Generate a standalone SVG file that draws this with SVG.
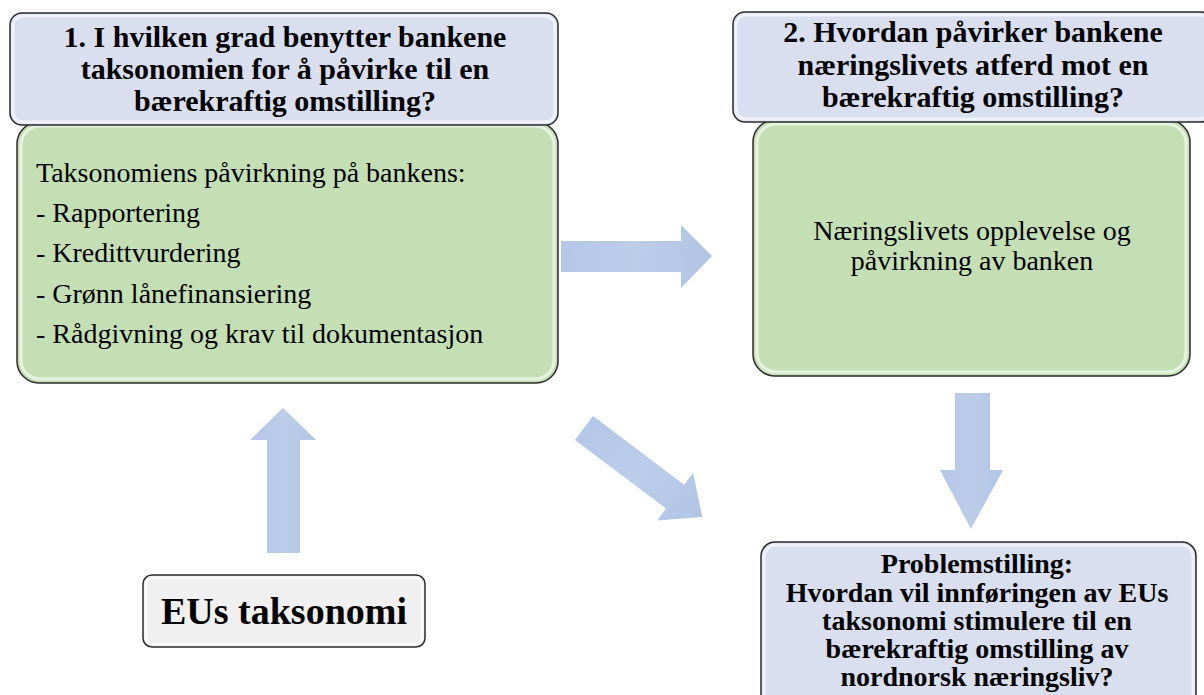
<svg xmlns="http://www.w3.org/2000/svg" width="1204" height="695" viewBox="0 0 1204 695">
<defs>
<linearGradient id="ag" x1="0" y1="0" x2="1" y2="0">
<stop offset="0" stop-color="#b4c7e7"/><stop offset="0.5" stop-color="#bccde9"/><stop offset="1" stop-color="#b0c4e5"/>
</linearGradient>
<style>
.hdr{fill:#d9dfef;stroke:#2b2b2b;stroke-width:1.5}
.grn{fill:#c5dfb4;stroke:#2b2b2b;stroke-width:1.5}
.gry{fill:#f0f0f0;stroke:#2b2b2b;stroke-width:1.5}
.glow{fill:none;stroke:#ffffff;stroke-opacity:0.6;stroke-width:3}
.arr{fill:url(#ag)}
.tb{font-weight:bold;fill:#000;text-anchor:middle}
.tr{fill:#000}
</style>
</defs>
<g id="connectors">
<polygon class="arr" points="561,241 681,241 681,225 712,256 681,288 681,272 561,272"/>
<polygon class="arr" transform="rotate(37 584 428)" points="584,413 698,413 698,398 732,428 698,458 698,443 584,443"/>
<polygon class="arr" points="955,393 990,393 990,470 1003,470 971,529 940,470 955,470"/>
<polygon class="arr" points="267,553 300,553 300,440 316,440 283,408 250,440 267,440"/>
</g>
<g id="box1-body">
<rect class="grn" x="17" y="122" width="541" height="261" rx="22"/>
<rect class="glow" x="21" y="126" width="533" height="253" rx="19"/>
<text class="tr" font-family="'Liberation Serif', 'DejaVu Serif', serif" font-size="28"><tspan x="36" y="182">Taksonomiens påvirkning på bankens:</tspan><tspan x="36" y="222">- Rapportering</tspan><tspan x="36" y="262">- Kredittvurdering</tspan><tspan x="36" y="303">- Grønn lånefinansiering</tspan><tspan x="36" y="343">- Rådgivning og krav til dokumentasjon</tspan></text>
</g>
<g id="box1-header">
<rect class="hdr" x="10" y="13" width="548" height="112" rx="12"/>
<rect class="glow" x="13" y="16" width="542" height="106" rx="10"/>
<text class="tb" font-family="'Liberation Serif', 'DejaVu Serif', serif" font-size="30"><tspan x="285" y="47">1. I hvilken grad benytter bankene</tspan><tspan x="285" y="79">taksonomien for å påvirke til en</tspan><tspan x="285" y="111">bærekraftig omstilling?</tspan></text>
</g>
<g id="box2-body">
<rect class="grn" x="753" y="120" width="437" height="256" rx="22"/>
<rect class="glow" x="757" y="124" width="429" height="248" rx="19"/>
<text class="tr" font-family="'Liberation Serif', 'DejaVu Serif', serif" font-size="28" text-anchor="middle"><tspan x="972" y="240">Næringslivets opplevelse og</tspan><tspan x="972" y="270">påvirkning av banken</tspan></text>
</g>
<g id="box2-header">
<rect class="hdr" x="733" y="12" width="480" height="110" rx="12"/>
<rect class="glow" x="736" y="15" width="474" height="104" rx="10"/>
<text class="tb" font-family="'Liberation Serif', 'DejaVu Serif', serif" font-size="30"><tspan x="973" y="42">2. Hvordan påvirker bankene</tspan><tspan x="973" y="75">næringslivets atferd mot en</tspan><tspan x="973" y="107">bærekraftig omstilling?</tspan></text>
</g>
<g id="eus">
<rect class="gry" x="143" y="575" width="282" height="72" rx="9"/>
<rect class="glow" x="146" y="578" width="276" height="66" rx="7"/>
<text class="tb" font-family="'Liberation Serif', 'DejaVu Serif', serif" font-size="38" x="284" y="624">EUs taksonomi</text>
</g>
<g id="problem">
<rect class="hdr" x="761" y="542" width="435" height="170" rx="14"/>
<rect class="glow" x="764" y="545" width="429" height="164" rx="12"/>
<text class="tb" font-family="'Liberation Serif', 'DejaVu Serif', serif" font-size="28"><tspan x="977" y="573">Problemstilling:</tspan><tspan x="977" y="602">Hvordan vil innføringen av EUs</tspan><tspan x="977" y="630">taksonomi stimulere til en</tspan><tspan x="977" y="658">bærekraftig omstilling av</tspan><tspan x="977" y="686">nordnorsk næringsliv?</tspan></text>
</g>
</svg>
